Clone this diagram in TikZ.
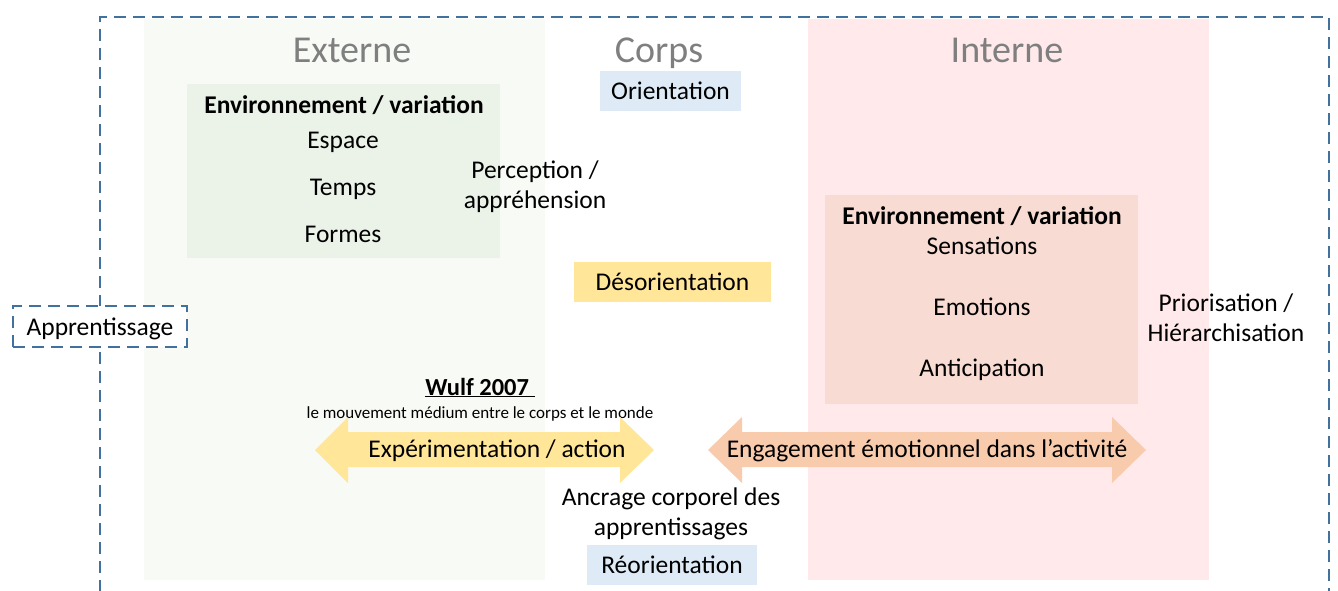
\documentclass[tikz,border=0pt]{standalone}
\usepackage{fontspec}
\setmainfont{Carlito}
\definecolor{greenpanel}{RGB}{248,250,245}
\definecolor{greenbox}{RGB}{235,243,232}
\definecolor{pinkpanel}{RGB}{255,233,234}
\definecolor{pinkbox}{RGB}{248,220,211}
\definecolor{lightblue}{RGB}{222,235,247}
\definecolor{yellowf}{RGB}{255,230,153}
\definecolor{orangef}{RGB}{248,203,173}
\definecolor{titlegray}{RGB}{127,127,127}
\definecolor{frameblue}{RGB}{65,113,156}
\begin{document}
\begin{tikzpicture}[x=1pt,y=-1pt,
  every node/.style={inner sep=0pt,outer sep=0pt},
  panel/.style={anchor=north west,minimum width=#1},
  txt/.style={font=\fontsize{25.5}{30}\selectfont,align=center,anchor=base},
  boldtxt/.style={font=\fontsize{25.5}{30}\selectfont\bfseries,align=center,anchor=base},
  titletxt/.style={font=\fontsize{38}{40}\selectfont,text=titlegray,anchor=base},
  labelbox/.style={font=\fontsize{25.5}{30}\selectfont,text height=17pt,text depth=0pt,minimum height=40},
  dashframe/.style={draw=frameblue,line width=2.8pt,dash pattern=on 12pt off 7pt}
]
\useasboundingbox (0,0) rectangle (1338,590);
% panels
\node[panel=401,minimum height=561,fill=greenpanel] (extpanel) at (144,19) {};
\node[panel=401,minimum height=561,fill=pinkpanel] (intpanel) at (808,19) {};
\node[panel=313,minimum height=174,fill=greenbox] (extbox) at (187,84) {};
\node[panel=313,minimum height=209,fill=pinkbox] (intbox) at (825,195) {};
% outer dashed frame
\coordinate (fbl) at (100,592);
\coordinate (ftl) at (100,17);
\coordinate (ftr) at (1329,17);
\coordinate (fbr) at (1329,592);
\draw[dashframe] (fbl) -- (ftl) -- (ftr) -- (fbr);
\node[dashframe,fill=white,labelbox,minimum width=174,minimum height=41] (appr) at (100,326.5) {Apprentissage};
% titles
\node[titletxt] (externe) at (352,62) {Externe};
\node[titletxt] (corps) at (659,62) {Corps};
\node[titletxt] (interne) at (1007,62) {Interne};
% external box contents
\node[boldtxt] (envA) at (344,113) {Environnement / variation};
\node[txt] (espace) at (343,148) {Espace};
\node[txt] (temps) at (343,195) {Temps};
\node[txt] (formes) at (343,242) {Formes};
\node[txt] (percep) at (535,208) {Perception /\\appréhension};
% body column
\node[labelbox,fill=lightblue,minimum width=141] (orient) at (670.5,91) {Orientation};
\node[labelbox,fill=yellowf,minimum width=197] (desor) at (672.5,282) {Désorientation};
\node[labelbox,fill=lightblue,minimum width=170] (reor) at (672,565) {Réorientation};
\node[txt] (ancrage) at (671,535) {Ancrage corporel des\\apprentissages};
% internal box contents
\node[boldtxt] (envB) at (982,224) {Environnement / variation};
\node[txt] (sens) at (982,254) {Sensations};
\node[txt] (emo) at (982,315) {Emotions};
\node[txt] (antic) at (982,376) {Anticipation};
\node[txt] (prior) at (1226,341) {Priorisation /\\Hiérarchisation};
% Wulf
\node[font=\fontsize{24.5}{28}\selectfont\bfseries,anchor=base] (wulf) at (480,395) {\underline{Wulf 2007\ }};
\node[font=\fontsize{17}{20}\selectfont,anchor=base] (mouv) at (480,418) {le mouvement médium entre le corps et le monde};
% double arrows
\fill[yellowf] (315,450) -- (348,417) -- (348,432) -- (620,432) -- (620,417) -- (654,450) -- (620,483) -- (620,467) -- (348,467) -- (348,483) -- cycle;
\node[txt] (exper) at (497,457) {Expérimentation / action};
\fill[orangef] (708,450) -- (742,417) -- (742,432) -- (1112,432) -- (1112,417) -- (1146,450) -- (1112,483) -- (1112,467) -- (742,467) -- (742,483) -- cycle;
\node[txt] (engag) at (927,457) {Engagement émotionnel dans l’activité};
\end{tikzpicture}
\end{document}
